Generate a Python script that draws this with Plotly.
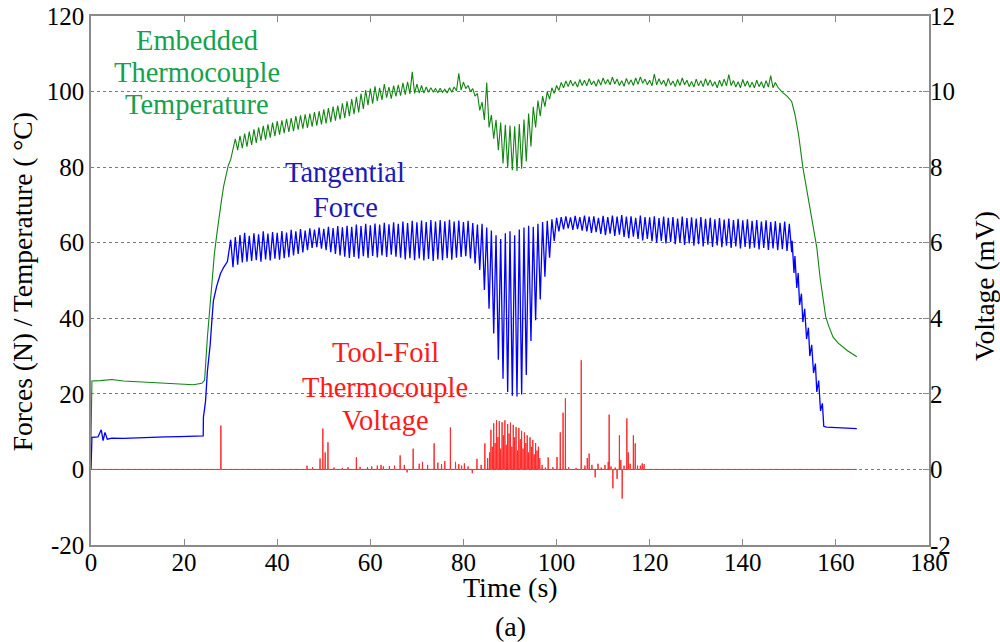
import plotly.graph_objects as go

# ---------------- data ----------------
# Embedded thermocouple temperature (deg C, left axis)
temp_pre_t = [0, 0.2, 2, 4.5, 7, 10, 13, 16, 19, 22, 23.8, 24.4]
temp_pre_v = [8, 23.4, 23.5, 23.8, 23.4, 23.2, 23.0, 22.8, 22.5, 22.4, 22.8, 23.6]
temp_rise_t = [25, 25.5, 26, 26.5, 27, 27.5, 28, 28.5, 29, 29.5, 30, 30.5]
temp_rise_v = [35, 43, 50, 57, 62, 67, 71, 75, 78, 80.5, 82, 85]
temp_osc_start = 31  # oscillation envelope sampled every 1 s
temp_osc_hi = [87.5, 88.3, 88.9, 89.4, 90.0, 90.5, 90.9, 91.3, 91.8, 92.2,
               92.4, 92.8, 93.0, 93.5, 93.7, 94.0, 94.2, 94.6, 94.8, 95.3,
               95.6, 96.0, 96.3, 96.9, 97.4, 98.0, 98.6, 99.5, 100.4, 100.8,
               101.4, 101.0, 102.0, 101.2, 101.6, 101.8, 102.3, 102.6, 105.2, 102.0,
               101.6, 101.2, 101.0, 100.8, 100.9, 100.6, 101.0, 101.2, 104.8, 102.5,
               101.6, 100.8, 99.5, 97.2, 102.4, 93.8, 92.5, 91.8, 91.2, 91.0,
               90.8, 91.4, 92.6, 94.2, 96.0, 97.6, 98.8, 100.0, 101.0, 101.6,
               102.4, 102.8, 103.0, 102.6, 103.2, 103.0, 103.4, 102.8, 103.2, 103.6,
               103.2, 103.8, 103.3, 102.9, 103.5, 103.1, 103.6, 103.9, 103.3, 103.0,
               104.6, 103.4, 103.0, 103.5, 102.8, 103.2, 103.6, 103.0, 102.7, 103.3,
               102.9, 103.4, 103.1, 102.6, 103.0, 103.3, 104.5, 102.9, 102.6, 103.2,
               102.8, 102.5, 103.0, 102.6, 102.9, 104.2, 102.4]
temp_osc_lo = [84.5, 85.0, 85.4, 85.9, 86.4, 87.0, 87.3, 87.8, 88.2, 88.6,
               89.0, 89.3, 89.5, 89.9, 90.2, 90.4, 90.7, 91.0, 91.3, 91.6,
               91.9, 92.3, 92.6, 93.0, 93.5, 94.0, 94.5, 95.4, 96.4, 96.8,
               97.5, 97.8, 98.4, 98.1, 98.7, 98.9, 99.2, 99.4, 99.5, 99.6,
               99.6, 99.8, 99.9, 99.7, 99.8, 99.6, 99.8, 100.2, 100.4, 100.8,
               100.0, 98.8, 95.0, 92.5, 90.5, 87.5, 84.5, 81.0, 79.8, 79.2,
               79.0, 79.6, 81.5, 85.5, 90.5, 93.5, 96.0, 98.0, 99.5, 100.3,
               101.0, 101.3, 101.5, 101.2, 101.6, 101.5, 101.8, 101.4, 101.7, 102.0,
               101.8, 102.0, 101.6, 101.4, 101.9, 101.6, 101.9, 102.2, 101.8, 101.5,
               101.8, 101.9, 101.4, 101.7, 101.3, 101.6, 101.8, 101.3, 101.2, 101.5,
               101.3, 101.6, 101.4, 101.0, 101.4, 101.5, 101.6, 101.2, 101.0, 101.4,
               101.1, 101.0, 101.3, 100.9, 101.2, 101.0, 101.2]
temp_fall_t = [147.8, 148.5, 149.5, 150.5, 151.2, 152, 152.9, 153.6, 154.4, 155.2, 155.9,
               156.6, 157.2, 157.8, 158.5, 159.4, 160.5, 161.5, 162.5, 163.5, 164.5]
temp_fall_v = [100.8, 99.8, 98.8, 97.4, 94.0, 88.5, 80.0, 75.0, 70.0, 64.0, 58.7,
               50.8, 45.0, 40.5, 37.8, 35.0, 33.4, 32.3, 31.4, 30.6, 29.8]

# Tangential force (N, left axis)
force_pre_t = [0, 0.2, 1.5, 2.2, 2.6, 3.0, 3.5, 4.5, 7, 10, 13, 16, 19, 22, 23.9]
force_pre_v = [0, 8.5, 8.6, 10.5, 7.6, 9.8, 8.0, 8.3, 8.2, 8.4, 8.5, 8.6, 8.7, 8.8, 8.9]
force_rise_t = [24.1, 24.15, 24.6, 25.0, 25.6, 26.0, 26.3, 27.0, 27.8, 28.5, 29.3]
force_rise_v = [8.9, 13.8, 18, 26, 33, 40, 44.7, 48.5, 51.8, 53.5, 55]
force_osc_start = 30  # oscillation envelope sampled every 1 s
force_osc_hi = [60.8, 61.5, 62.0, 62.6, 61.8, 62.5, 62.2, 63.0, 62.4, 62.8,
                62.6, 63.1, 62.7, 63.4, 63.0, 63.6, 63.2, 63.8, 63.5, 64.0,
                63.7, 64.2, 63.9, 64.4, 64.1, 64.5, 64.2, 64.8, 64.4, 65.0,
                64.6, 65.1, 64.8, 65.3, 64.9, 65.4, 65.0, 65.6, 65.2, 65.8,
                65.4, 65.9, 65.5, 66.0, 65.6, 66.0, 65.7, 66.1, 65.6, 65.9,
                65.5, 65.8, 65.2, 64.8, 65.0, 64.0, 63.2, 62.0, 61.0, 62.5,
                63.0, 62.0, 63.5, 64.0, 64.5, 64.2, 65.0, 65.5, 65.8, 66.2,
                66.6, 66.8, 67.0, 66.7, 67.1, 66.8, 67.2, 66.9, 67.0, 66.6,
                67.1, 66.8, 67.2, 66.9, 67.3, 66.9, 67.0, 66.6, 67.2, 66.8,
                66.7, 67.0, 66.5, 66.9, 66.6, 66.8, 66.4, 66.9, 66.5, 66.7,
                66.4, 66.8, 66.3, 66.6, 66.2, 66.5, 66.1, 66.4, 66.0, 66.3,
                65.9, 66.2, 65.8, 66.0, 65.6, 65.9, 65.5, 65.7, 65.3, 65.6, 65.0]
force_osc_lo = [53.5, 54.2, 54.8, 55.0, 55.2, 55.4, 55.0, 55.6, 55.3, 55.8,
                55.5, 55.9, 56.2, 56.6, 57.0, 57.4, 58.0, 58.6, 58.8, 58.4,
                58.0, 57.5, 57.0, 56.6, 56.3, 56.0, 56.2, 55.8, 56.4, 56.0,
                56.5, 56.1, 56.6, 56.2, 56.8, 56.3, 56.0, 55.6, 55.9, 55.4,
                55.8, 55.3, 55.7, 55.2, 55.6, 55.4, 55.9, 55.5, 56.0, 56.2,
                56.4, 55.8, 54.5, 52.8, 47.5, 42.5, 36.0, 29.0, 24.0, 20.5,
                19.5, 19.3, 19.8, 25.0, 34.0, 39.5, 45.0, 51.0, 56.0, 60.5,
                63.0, 63.5, 63.8, 63.4, 63.6, 63.2, 63.0, 62.6, 62.8, 62.3,
                62.0, 62.4, 61.8, 62.1, 61.5, 61.2, 61.6, 61.0, 60.6, 61.0,
                60.4, 60.0, 60.5, 59.8, 60.2, 59.6, 60.0, 59.4, 59.8, 59.2,
                59.6, 59.0, 59.5, 58.9, 59.3, 58.8, 59.2, 58.6, 59.0, 58.5,
                58.9, 58.4, 58.7, 58.2, 58.6, 58.1, 58.5, 58.0, 58.3, 57.8, 57.5]
force_fall_t = [150.6, 151.0, 151.2, 151.6, 151.9, 152.2, 152.6, 152.9, 153.3, 153.7, 154.1, 154.4,
                154.8, 155.2, 155.6, 155.9, 156.3, 156.7, 157.1, 157.4, 158, 160, 162, 164.5]
force_fall_v = [60.5, 52.0, 56.5, 48.0, 52.0, 43.5, 46.5, 39.0, 42.5, 34.5, 37.5, 30.0,
                33.0, 25.5, 28.0, 20.5, 23.5, 15.5, 17.5, 11.4, 11.2, 11.1, 10.9, 10.8]

# Tool-foil thermocouple voltage (mV, right axis): spikes on a zero baseline
volt_spike_t = [27.9, 46.4, 47.6, 49.2, 49.8, 50.3, 50.9, 52.2, 54.0, 55.2, 57.0, 57.8,
                59.4, 60.3, 61.5, 62.3, 62.8, 64.1, 65.2, 66.4, 67.3, 67.9, 69.2, 70.5,
                71.2, 72.3, 73.7, 74.5, 75.3, 76.0, 77.2, 78.3, 79.0, 79.6, 80.2, 81.0,
                81.9, 82.9, 83.8, 84.6, 85.2,
                85.6, 85.9, 86.2, 86.5, 86.8, 87.1, 87.4, 87.7, 88.0, 88.3, 88.6, 88.9,
                89.2, 89.5, 89.8, 90.1, 90.4, 90.7, 91.0, 91.3, 91.6, 91.9, 92.2, 92.5,
                92.8, 93.1, 93.4, 93.7, 94.0, 94.3, 94.6, 94.9, 95.2, 95.5, 95.8, 96.1, 96.4,
                96.9, 97.6, 98.2, 99.2, 100.1, 100.8, 101.4, 101.9, 102.6, 104.2, 105.3,
                106.1, 106.6, 107.0, 107.6, 108.3, 108.9, 109.6, 110.4, 111.1, 111.3,
                111.7, 112.1, 112.6, 113.0, 113.5, 113.8, 114.1, 114.5, 115.1, 115.4,
                115.8, 116.5, 116.9, 117.4, 118.0, 118.4, 118.8]
volt_spike_v = [1.16, 0.10, 0.06, 0.29, 1.08, 0.45, 0.72, 0.05, 0.04, 0.06, 0.32, 0.07,
                0.06, 0.08, 0.10, 0.12, 0.08, 0.09, 0.10, 0.37, 0.12, -0.08, 0.55, 0.15,
                0.20, 0.12, 0.69, 0.18, 0.14, 0.22, 1.11, 0.20, 0.14, 0.10, 0.16, 0.08,
                -0.10, 0.28, 0.12, 0.69, 0.30,
                0.45, 1.05, 0.60, 1.22, 0.70, 1.30, 0.85, 1.28, 0.55, 1.25, 0.90, 1.30,
                0.65, 1.20, 0.95, 1.24, 0.60, 1.18, 0.85, 1.12, 0.50, 1.10, 0.80, 1.02,
                0.55, 0.98, 0.70, 0.90, 0.45, 0.85, 0.60, 0.78, 0.40, 0.70, 0.50, 0.60, 0.30,
                0.12, 0.05, 0.32, 0.06, 0.33, 0.98, 1.50, 1.88, 0.06, 0.04, 2.89,
                0.10, 0.30, 0.42, 0.12, -0.21, 0.15, 0.05, 0.12, 0.20, 1.45,
                0.08, -0.50, 0.05, -0.25, 0.90, 0.25, -0.77, 0.10, 1.35, 0.45,
                0.15, 0.90, 0.69, 0.10, 0.10, 0.16, 0.14]
volt_end_t = 164.5

x_ticks = [0, 20, 40, 60, 80, 100, 120, 140, 160, 180]
y_left_ticks = [-20, 0, 20, 40, 60, 80, 100, 120]
y_left_labels = ["-20", "0", "20", "40", "60", "80", "100", "120"]
y_right_ticks = [-2, 0, 2, 4, 6, 8, 10, 12]
y_right_labels = ["-2", "0", "2", "4", "6", "8", "10", "12"]

# ---------------- build traces ----------------
def zigzag(t0, hi, lo):
    xs, ys = [], []
    for i, (h, l) in enumerate(zip(hi, lo)):
        xs += [t0 + i, t0 + i + 0.5]
        ys += [h, l]
    return xs, ys

tz_x, tz_y = zigzag(temp_osc_start, temp_osc_hi, temp_osc_lo)
temp_x = temp_pre_t + temp_rise_t + tz_x + temp_fall_t
temp_y = temp_pre_v + temp_rise_v + tz_y + temp_fall_v

fz_x, fz_y = zigzag(force_osc_start, force_osc_hi, force_osc_lo)
force_x = force_pre_t + force_rise_t + fz_x + force_fall_t
force_y = force_pre_v + force_rise_v + fz_y + force_fall_v

volt_x, volt_y = [0], [0]
for t, v in zip(volt_spike_t, volt_spike_v):
    volt_x += [t - 0.04, t, t + 0.04]
    volt_y += [0, v, 0]
volt_x.append(volt_end_t)
volt_y.append(0)

FONT = "Liberation Serif"
fig = go.Figure()
fig.add_trace(go.Scatter(x=temp_x, y=temp_y, mode="lines",
                         line=dict(color="#118511", width=1.1), showlegend=False))
fig.add_trace(go.Scatter(x=force_x, y=force_y, mode="lines",
                         line=dict(color="#0000ff", width=1.3), showlegend=False))
fig.add_trace(go.Scatter(x=volt_x, y=volt_y, mode="lines", yaxis="y2",
                         line=dict(color="#ff2a2a", width=1), showlegend=False))

axcol = "#8a8a8a"
fig.update_layout(
    width=1000, height=642,
    margin=dict(l=91, r=71, t=16, b=97),
    paper_bgcolor="white", plot_bgcolor="white",
    font=dict(family=FONT, size=25, color="black"),
    xaxis=dict(range=[0, 180], tickvals=x_ticks, ticks="inside", ticklen=6,
               tickcolor=axcol, showline=True, linecolor=axcol, linewidth=1.5,
               mirror="ticks", showgrid=False, zeroline=False, automargin=False,
               ticklabelstandoff=-6, ticklabeloverflow="allow",
               tickfont=dict(family=FONT, size=25)),
    yaxis=dict(range=[-20, 120], tickvals=y_left_ticks, ticktext=y_left_labels,
               ticks="", showline=True,
               linecolor=axcol, linewidth=1.5, mirror=True, showgrid=True,
               gridcolor="#7a7a7a", griddash="dot", gridwidth=1, zeroline=False,
               automargin=False, ticklabeloverflow="allow",
               tickfont=dict(family=FONT, size=25)),
    yaxis2=dict(range=[-2, 12], tickvals=y_right_ticks, ticktext=y_right_labels,
                overlaying="y", side="right",
                ticks="inside", ticklen=6, tickcolor=axcol, showgrid=False,
                zeroline=False, showline=False, automargin=False,
                ticklabeloverflow="allow",
                tickfont=dict(family=FONT, size=25)),
)

ann = []
def label(text, t, v, color, size=28.5):
    ann.append(dict(x=t, y=v, xref="x", yref="y", text=text, showarrow=False,
                    font=dict(family=FONT, size=size, color=color),
                    xanchor="center", yanchor="middle"))

green_txt = "#14a150"
label("Embedded", 22.8, (469 - 40) / 3.78, green_txt)
label("Thermocouple", 22.8, (469 - 72) / 3.78, green_txt)
label("Temperature", 22.8, (469 - 104) / 3.78, green_txt)
blue_txt = "#1a1ab8"
label("Tangential", 54.6, (469 - 172) / 3.78, blue_txt)
label("Force", 54.6, (469 - 207) / 3.78, blue_txt)
red_txt = "#ff1a1a"
label("Tool-Foil", 63.2, (469 - 352) / 3.78, red_txt)
label("Thermocouple", 63.2, (469 - 387) / 3.78, red_txt)
label("Voltage", 63.2, (469 - 420) / 3.78, red_txt)

ann.append(dict(x=-0.082, y=0.497, xref="paper", yref="paper", text="Forces (N) / Temperature ( °C)",
                textangle=-90, showarrow=False, font=dict(family=FONT, size=27.5),
                xanchor="center", yanchor="middle"))
ann.append(dict(x=1.067, y=0.49, xref="paper", yref="paper", text="Voltage (mV)",
                textangle=-90, showarrow=False, font=dict(family=FONT, size=27.5),
                xanchor="center", yanchor="middle"))
ann.append(dict(x=0.5, y=-0.081, xref="paper", yref="paper", text="Time (s)",
                showarrow=False, font=dict(family=FONT, size=28),
                xanchor="center", yanchor="middle"))
ann.append(dict(x=0.5, y=-0.155, xref="paper", yref="paper", text="(a)",
                showarrow=False, font=dict(family=FONT, size=28),
                xanchor="center", yanchor="middle"))
fig.update_layout(annotations=ann)

# remove the default 8 px page margin so the 1000x642 figure fills the window exactly
fig.write_html("out.html",
               config={"displayModeBar": False},
               post_script="document.body.style.margin='0px';"
                           "document.documentElement.style.overflow='hidden';")
